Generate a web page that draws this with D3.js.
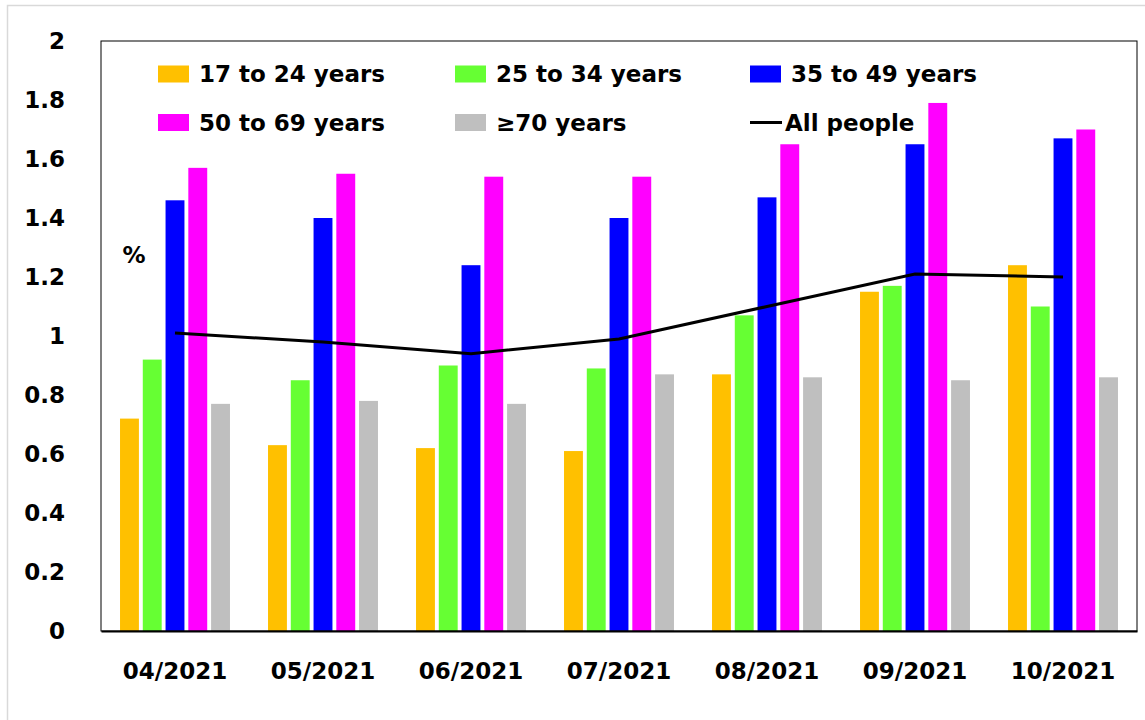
<!DOCTYPE html>
<html lang="en">
<head>
  <meta charset="UTF-8">
  <title>Chart</title>
  <style>
    body { margin: 0; background: #fff; }
    text { font-family: 'DejaVu Sans', sans-serif; font-weight: bold; fill: #000; }
  </style>
</head>
<body>
  <svg id="svg" width="1145" height="720"></svg>
  <script src="https://cdn.jsdelivr.net/npm/d3@7"></script>
  <script>
    // data
    const months = ['04/2021', '05/2021', '06/2021', '07/2021', '08/2021', '09/2021', '10/2021']
    const groups = ['17 to 24 years', '25 to 34 years', '35 to 49 years', '50 to 69 years', '\u226570 years']
    const age17 = [0.72, 0.63, 0.62, 0.61, 0.87, 1.15, 1.24]
    const age25 = [0.92, 0.85, 0.90, 0.89, 1.07, 1.17, 1.10]
    const age35 = [1.46, 1.40, 1.24, 1.40, 1.47, 1.65, 1.67]
    const age50 = [1.57, 1.55, 1.54, 1.54, 1.65, 1.79, 1.70]
    const age70 = [0.77, 0.78, 0.77, 0.87, 0.86, 0.85, 0.86]
    const allPeople = [1.01, 0.98, 0.94, 0.99, 1.10, 1.21, 1.20]
    const yTicks = [0, 0.2, 0.4, 0.6, 0.8, 1, 1.2, 1.4, 1.6, 1.8, 2]
    const colors = ['#ffc000', '#66ff33', '#0000ff', '#ff00ff', '#bfbfbf']

    const series = [age17, age25, age35, age50, age70]

    const plotLeft = 101, plotRight = 1137, plotTop = 41, plotBottom = 631
    const svg = d3.select('#svg')

    // light outer frame (partly outside the window)
    svg.append('rect')
      .attr('x', 7.5).attr('y', 5.5)
      .attr('width', 1200).attr('height', 800)
      .attr('fill', 'none')
      .attr('stroke', '#d9d9d9')
      .attr('stroke-width', 1.5)

    // scales
    const x0 = d3.scaleBand()
      .domain(months)
      .range([plotLeft, plotRight])
      .paddingInner(0.257)
      .paddingOuter(0.1285)
    const x1 = d3.scaleBand()
      .domain(groups)
      .range([0, x0.bandwidth()])
      .paddingInner(0.17)
    const y = d3.scaleLinear().domain([0, 2]).range([plotBottom, plotTop])

    // bars, one group per month
    const rows = months.map((m, i) => ({ month: m, values: groups.map((g, k) => ({ key: g, value: series[k][i], color: colors[k] })) }))

    svg.append('g')
      .selectAll('g')
      .data(rows)
      .join('g')
      .attr('transform', d => `translate(${x0(d.month)},0)`)
      .selectAll('rect')
      .data(d => d.values)
      .join('rect')
      .attr('x', d => x1(d.key))
      .attr('y', d => y(d.value))
      .attr('width', x1.bandwidth())
      .attr('height', d => y(0) - y(d.value))
      .attr('fill', d => d.color)

    // all people line through the middle of each group
    const line = d3.line()
      .x((d, i) => x0(months[i]) + x0.bandwidth() / 2)
      .y(d => y(d))
    svg.append('path')
      .datum(allPeople)
      .attr('d', line)
      .attr('fill', 'none')
      .attr('stroke', '#000')
      .attr('stroke-width', 3)

    // plot frame
    svg.append('rect')
      .attr('x', plotLeft).attr('y', plotTop)
      .attr('width', plotRight - plotLeft).attr('height', plotBottom - plotTop)
      .attr('fill', 'none')
      .attr('stroke', '#000')
      .attr('stroke-width', 1)

    // axes
    const yAxis = svg.append('g')
      .attr('transform', `translate(${plotLeft},0)`)
      .call(d3.axisLeft(y).tickValues(yTicks).tickSize(0).tickPadding(36).tickFormat(d => String(+d.toFixed(1))))
    yAxis.select('.domain').remove()
    yAxis.selectAll('text').attr('font-size', 23).attr('font-family', null)

    const xAxis = svg.append('g')
      .attr('transform', `translate(0,${plotBottom})`)
      .call(d3.axisBottom(x0).tickSize(0).tickPadding(32))
    xAxis.select('.domain').attr('stroke', '#000').attr('stroke-width', 2)
    xAxis.selectAll('text').attr('font-size', 23).attr('font-family', null)

    // % unit label
    svg.append('text')
      .attr('x', 134).attr('y', 263)
      .attr('text-anchor', 'middle')
      .attr('font-size', 23)
      .text('%')

    // legend: 3 columns, 2 rows
    const legendCols = [158, 455, 750]
    const legendRows = [74, 122.5]
    const legendItems = groups.map((g, k) => ({ label: g, color: colors[k], type: 'box' }))
    legendItems.push({ label: 'All people', color: '#000', type: 'line' })

    const legend = svg.append('g')
      .selectAll('g')
      .data(legendItems)
      .join('g')
      .attr('transform', (d, i) => `translate(${legendCols[i % 3]},${legendRows[Math.floor(i / 3)]})`)

    legend.filter(d => d.type === 'box')
      .append('rect')
      .attr('x', 0).attr('y', -8.5)
      .attr('width', 31).attr('height', 17)
      .attr('fill', d => d.color)
    legend.filter(d => d.type === 'line')
      .append('line')
      .attr('x1', 0).attr('x2', 32)
      .attr('stroke', '#000')
      .attr('stroke-width', 3)
    legend.append('text')
      .attr('x', d => d.type === 'line' ? 35 : 41)
      .attr('y', 8.4)
      .attr('font-size', 23)
      .text(d => d.label)
  </script>
</body>
</html>
